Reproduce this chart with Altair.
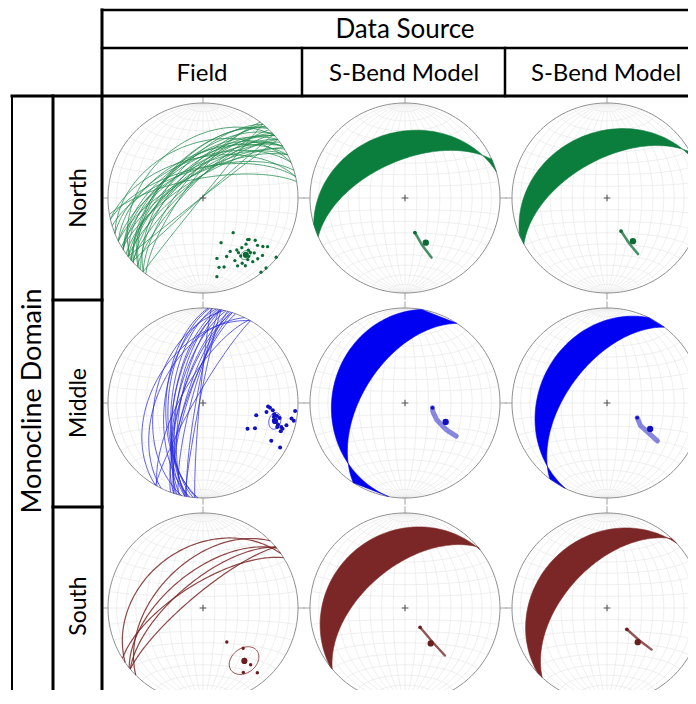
import numpy as np
import pandas as pd
import altair as alt

# ---------------- values ----------------
top_header = "Data Source"
side_header = "Monocline Domain"
col_labels = ["Field", "S-Bend Model", "S-Bend Model"]
row_labels = ["North", "Middle", "South"]

# Field data: poles to bedding (trend, plunge, degrees)
north_pole_trend = [139, 158, 133, 132, 129, 137, 131, 142, 129, 127, 147, 139, 153, 147, 139, 137, 147,
                    167, 158, 134, 138, 153, 144, 142, 153, 148, 167, 163, 129, 138, 142, 170, 149, 142]
north_pole_plunge = [50, 48, 36, 35, 30, 34, 25, 34, 20, 16, 35, 28, 37, 32, 25, 22, 28,
                     35, 34, 14, 15, 27, 21, 16, 21, 17, 26, 25, 1, 1, 1, 17, 21, 23]
north_mean = [143, 26]
north_cone = 4

middle_pole_trend = [93, 94, 98, 96, 99, 100, 101, 104, 106, 107, 108, 110, 105, 100, 101, 95,
                     103, 120, 116, 119, 120, 108, 101]
middle_pole_plunge = [32, 30, 33, 27, 25, 22, 19, 22, 19, 15, 13, 14, 10, 6, 3, 3,
                      42, 45, 39, 19, 7, 19, 25]
middle_mean = [104, 23]
middle_cone = 6

south_pole_trend = [145, 135, 141, 140, 148, 140]
south_pole_plunge = [54, 40, 31, 23, 21, 12]
south_mean = [142, 30]
south_cone = 12

# S-Bend model: poles of modelled bedding along the fold (first = start) and model mean
north_model_a_trend = [164, 160, 156]
north_model_a_plunge = [59, 46, 32]
north_model_a_mean = [155, 47]
north_model_b_trend = [157, 154, 151]
north_model_b_plunge = [59, 46, 33]
north_model_b_mean = [149, 46]

middle_model_a_trend = [100, 107, 118, 123, 123]
middle_model_a_plunge = [66, 65, 59, 47, 36]
middle_model_a_mean = [115, 51]
middle_model_b_trend = [116, 124, 127]
middle_model_b_plunge = [61, 55, 34]
middle_model_b_mean = [121, 46]

south_model_a_trend = [142, 141, 140]
south_model_a_plunge = [69, 52, 35]
south_model_a_mean = [144, 52]
south_model_b_trend = [137, 135, 133]
south_model_b_plunge = [65, 50, 36]
south_model_b_mean = [138, 50]

# ---------------- styles / layout ----------------
band_color = ["#0b7d3c", "#0000f2", "#7c2727"]
arc_color = ["#1f8a4c", "#2a2ae0", "#7a2626"]
dot_color = ["#0b6b34", "#1010c0", "#6a1f1f"]
arc_width = [0.9, 0.9, 1.2]
streak_width = [2.6, 5.0, 2.4]
streak_opacity = [0.75, 0.5, 0.75]
pole_size = [11, 16, 12]
CX = [203, 405, 607]
CY = [198, 403, 608]
RAD = 95

field = [
    (north_pole_trend, north_pole_plunge, north_mean, north_cone),
    (middle_pole_trend, middle_pole_plunge, middle_mean, middle_cone),
    (south_pole_trend, south_pole_plunge, south_mean, south_cone),
]
models = [
    [(north_model_a_trend, north_model_a_plunge, north_model_a_mean),
     (north_model_b_trend, north_model_b_plunge, north_model_b_mean)],
    [(middle_model_a_trend, middle_model_a_plunge, middle_model_a_mean),
     (middle_model_b_trend, middle_model_b_plunge, middle_model_b_mean)],
    [(south_model_a_trend, south_model_a_plunge, south_model_a_mean),
     (south_model_b_trend, south_model_b_plunge, south_model_b_mean)],
]


# ---------------- equal-area (lower hemisphere) geometry ----------------
def line_vec(trend, plunge):
    t = np.radians(np.asarray(trend, dtype=float))
    p = np.radians(np.asarray(plunge, dtype=float))
    return np.array([np.cos(p) * np.cos(t), np.cos(p) * np.sin(t), np.sin(p)])  # N, E, Down


def project(v):
    v = np.array(v, dtype=float)
    if v.ndim == 1:
        v = v[:, None]
    flip = v[2] < 0
    v[:, flip] *= -1
    s = np.sqrt(1.0 + v[2])
    return v[1] / s, v[0] / s


def plane_of_pole(trend, plunge):
    return (trend + 180.0) % 360.0, 90.0 - plunge


def great_circle(dipdir, dip, n=91):
    s = np.radians(dipdir - 90.0)
    dd = np.radians(dipdir)
    d = np.radians(dip)
    a = np.linspace(0.0, np.pi, n)
    S = np.array([np.cos(s), np.sin(s), 0.0])
    Dv = np.array([np.cos(d) * np.cos(dd), np.cos(d) * np.sin(dd), np.sin(d)])
    return project(np.outer(S, np.cos(a)) + np.outer(Dv, np.sin(a)))


def cone(trend, plunge, alpha, n=73):
    u = line_vec(trend, plunge)
    b = np.cross(u, [0.0, 0.0, 1.0])
    b /= np.linalg.norm(b)
    c = np.cross(u, b)
    ph = np.linspace(0, 2 * np.pi, n)
    al = np.radians(alpha)
    v = np.outer(u, np.full(n, np.cos(al))) + np.sin(al) * (np.outer(b, np.cos(ph)) + np.outer(c, np.sin(ph)))
    return project(v)


frames = {k: [] for k in ["grid", "prim", "tick", "arcs", "cones", "poles", "band", "streak", "dots", "cross"]}


def add(kind, X, Y, row, col, pid, **extra):
    x = CX[col] + RAD * np.atleast_1d(X)
    y = CY[row] - RAD * np.atleast_1d(Y)
    df = pd.DataFrame({"x": x, "y": y, "o": np.arange(len(x)), "id": pid})
    for k, val in extra.items():
        df[k] = val
    frames[kind].append(df)


phi = np.linspace(0, np.pi, 61)
th = np.linspace(0, 2 * np.pi, 181)
for r in range(3):
    for c in range(3):
        k = 0
        for dd in (90, 270):
            for dip in range(10, 90, 10):
                X, Y = great_circle(dd, dip, 61)
                add("grid", X, Y, r, c, f"g{r}{c}_{k}")
                k += 1
        for sgn in (1, -1):
            for alpha in range(10, 90, 10):
                al = np.radians(alpha)
                v = np.array([sgn * np.cos(al) * np.ones_like(phi), np.sin(al) * np.cos(phi), np.sin(al) * np.sin(phi)])
                X, Y = project(v)
                add("grid", X, Y, r, c, f"g{r}{c}_{k}")
                k += 1
        for dd in (90, 180):
            X, Y = great_circle(dd, 90, 3)
            add("grid", X, Y, r, c, f"g{r}{c}_{k}")
            k += 1
        add("prim", np.cos(th), np.sin(th), r, c, f"p{r}{c}")
        for j, az in enumerate((0, 90, 180, 270)):
            a = np.radians(az)
            add("tick", [np.sin(a), 1.07 * np.sin(a)], [np.cos(a), 1.07 * np.cos(a)], r, c, f"t{r}{c}_{j}")
        add("cross", [0.0], [0.0], r, c, f"x{r}{c}")

# field panels
for r, (tl, pl, mean, cone_a) in enumerate(field):
    for i, (t, p) in enumerate(zip(tl, pl)):
        X, Y = great_circle(*plane_of_pole(t, p), 91)
        add("arcs", X, Y, r, 0, f"a{r}_{i}", c=arc_color[r], w=arc_width[r])
    X, Y = project(line_vec(tl, pl))
    add("poles", X, Y, r, 0, f"pp{r}", c=dot_color[r], s=pole_size[r])
    X, Y = project(line_vec(*mean))
    add("poles", X, Y, r, 0, f"pm{r}", c=dot_color[r], s=38)
    X, Y = cone(mean[0], mean[1], cone_a)
    add("cones", X, Y, r, 0, f"cn{r}", c=arc_color[r])

# model panels
for r in range(3):
    for j, (tl, pl, mean) in enumerate(models[r]):
        col = j + 1
        i_sh = int(np.argmax(pl))
        i_st = int(np.argmin(pl))
        XA, YA = great_circle(*plane_of_pole(tl[i_sh], pl[i_sh]), 121)
        XB, YB = great_circle(*plane_of_pole(tl[i_st], pl[i_st]), 121)
        X = np.concatenate([XA, XB[::-1], XA[:1]])
        Y = np.concatenate([YA, YB[::-1], YA[:1]])
        add("band", X, Y, r, col, f"b{r}{col}", dom=r)
        X, Y = project(line_vec(tl, pl))
        add("streak", X, Y, r, col, f"s{r}{col}", c=dot_color[r], w=streak_width[r], op=streak_opacity[r])
        add("dots", X[:1], Y[:1], r, col, f"d0{r}{col}", c=dot_color[r], s=14)
        X, Y = project(line_vec(*mean))
        add("dots", X, Y, r, col, f"dm{r}{col}", c=dot_color[r], s=40)

data = {k: pd.concat(v, ignore_index=True) for k, v in frames.items()}

# ---------------- chart (1 unit = 1 px of the reference, page origin at 8,8) ----------------
W, H = 680, 682
xs = alt.Scale(domain=[8, 8 + W], range=[0, W], nice=False, zero=False)
ys = alt.Scale(domain=[8, 8 + H], range=[0, H], nice=False, zero=False)


def XY():
    return dict(x=alt.X("x:Q", scale=xs, axis=None), y=alt.Y("y:Q", scale=ys, axis=None))


layers = []
layers.append(alt.Chart(data["grid"]).mark_line(color="#e4e4e4", strokeWidth=0.6, clip=True)
              .encode(**XY(), detail="id:N", order="o:Q"))
layers.append(alt.Chart(data["prim"]).mark_line(color="#8e8e8e", strokeWidth=1.0, clip=True)
              .encode(**XY(), detail="id:N", order="o:Q"))
layers.append(alt.Chart(data["tick"]).mark_line(color="#a0a0a0", strokeWidth=1.0, clip=True)
              .encode(**XY(), detail="id:N", order="o:Q"))
band = data["band"]
for r in range(3):
    layers.append(alt.Chart(band[band["dom"] == r]).mark_line(
        fill=band_color[r], stroke=band_color[r], strokeWidth=0.6, clip=True)
        .encode(**XY(), detail="id:N", order="o:Q"))
layers.append(alt.Chart(data["arcs"]).mark_line(opacity=0.85, clip=True)
              .encode(**XY(), detail="id:N", order="o:Q", color=alt.Color("c:N", scale=None),
                      size=alt.Size("w:Q", scale=None)))
layers.append(alt.Chart(data["cones"]).mark_line(strokeWidth=1.0, opacity=0.8, clip=True)
              .encode(**XY(), detail="id:N", order="o:Q", color=alt.Color("c:N", scale=None)))
layers.append(alt.Chart(data["streak"]).mark_line(strokeCap="round", clip=True)
              .encode(**XY(), detail="id:N", order="o:Q", color=alt.Color("c:N", scale=None),
                      size=alt.Size("w:Q", scale=None), opacity=alt.Opacity("op:Q", scale=None)))
layers.append(alt.Chart(data["poles"]).mark_circle(opacity=1, clip=True)
              .encode(**XY(), color=alt.Color("c:N", scale=None), size=alt.Size("s:Q", scale=None)))
layers.append(alt.Chart(data["dots"]).mark_circle(opacity=1, clip=True)
              .encode(**XY(), color=alt.Color("c:N", scale=None), size=alt.Size("s:Q", scale=None)))
layers.append(alt.Chart(data["cross"]).mark_point(shape="M-1,0L1,0M0,-1L0,1", size=45, filled=False,
                                                  color="#555555", strokeWidth=1.1, opacity=1)
              .encode(**XY()))

# table frame
rules = pd.DataFrame({
    "x":  [102, 102, 12, 102, 302, 505, 12, 53, 53, 53],
    "y":  [10, 48, 96, 10, 48, 48, 96, 96, 300, 507],
    "x2": [688, 688, 688, 102, 302, 505, 12, 53, 102, 102],
    "y2": [10, 48, 96, 690, 96, 96, 690, 690, 300, 507],
    "w":  [2.5, 2.5, 3, 3, 2.5, 2.5, 2, 3, 3, 3],
})
layers.append(alt.Chart(rules).mark_rule(color="black", strokeCap="square")
              .encode(x=alt.X("x:Q", scale=xs, axis=None), y=alt.Y("y:Q", scale=ys, axis=None),
                      x2="x2:Q", y2="y2:Q", size=alt.Size("w:Q", scale=None)))

texts = pd.DataFrame({
    "t": [top_header] + col_labels + row_labels + [side_header],
    "x": [405, 202, 404, 606, 79, 79, 79, 33],
    "y": [30, 74, 74, 74, 198, 403, 606, 401],
    "a": [0, 0, 0, 0, 270, 270, 270, 270],
    "fs": [26, 24, 24, 24, 23, 23, 23, 27],
})
layers.append(alt.Chart(texts).mark_text(font="Lato", color="black", align="center", baseline="middle")
              .encode(x=alt.X("x:Q", scale=xs, axis=None), y=alt.Y("y:Q", scale=ys, axis=None),
                      text="t:N", angle=alt.Angle("a:Q", scale=None), size=alt.Size("fs:Q", scale=None)))

chart = alt.layer(*layers).properties(
    width=W, height=H, autosize=alt.AutoSizeParams(type="none"), padding=0
).configure(background="white").configure_view(stroke=None)

chart.save("out.html", embed_options={"renderer": "svg", "actions": False})
